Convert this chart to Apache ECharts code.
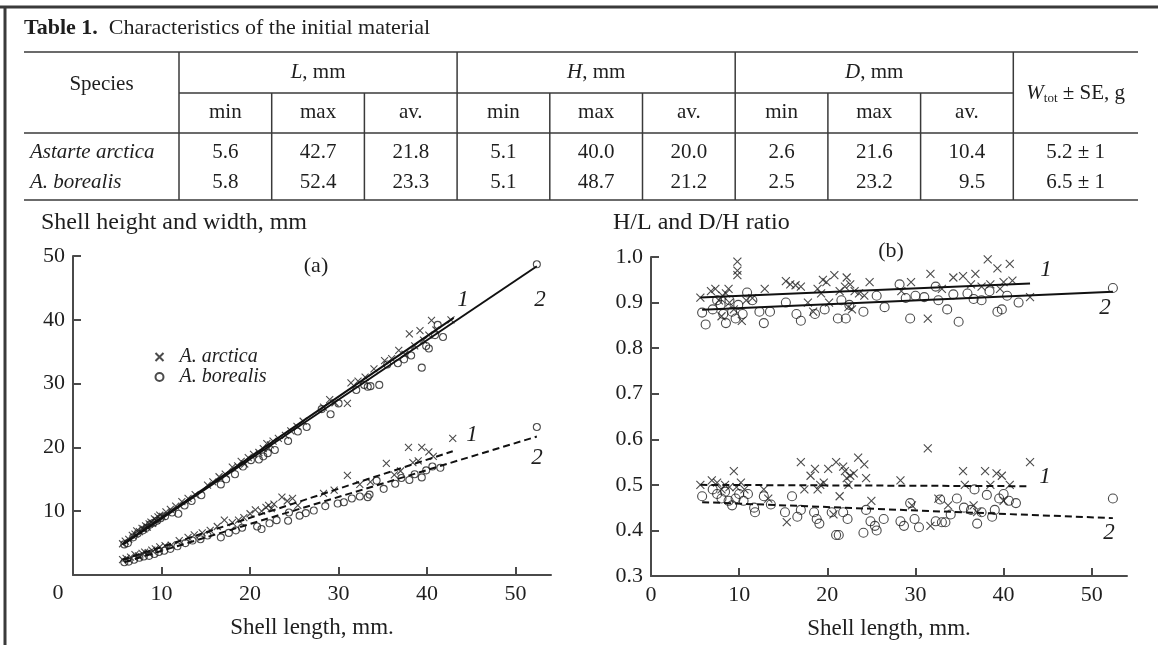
<!DOCTYPE html>
<html>
<head>
<meta charset="utf-8">
<style>
html, body { margin: 0; padding: 0; background: #fff; }
#chart { width: 1158px; height: 645px; }
</style>
<script src="https://cdn.jsdelivr.net/npm/echarts@6/dist/echarts.min.js"></script>
</head>
<body>
<div id="chart"></div>
<script>
// table content
var groupHeaders = ['L', 'H', 'D'];
var subHeaders = ['min', 'max', 'av.'];
var speciesNames = ['Astarte arctica', 'A. borealis'];
var arcticaRow = ['5.6', '42.7', '21.8', '5.1', '40.0', '20.0', '2.6', '21.6', '10.4'];
var borealisRow = ['5.8', '52.4', '23.3', '5.1', '48.7', '21.2', '2.5', '23.2', '9.5'];
var weightValues = ['5.2 ± 1', '6.5 ± 1'];

// (a) shell height and width vs length, [L, mm]
var arcticaHeight = [[5.6,4.9],[5.9,5.3],[6.3,5.6],[6.7,6.2],[7.0,6.4],[7.2,6.9],[7.5,6.8],[7.8,7.3],[8.0,7.2],[8.2,7.7],[8.4,7.5],[8.6,8.0],[8.8,8.3],[9.0,8.1],[9.2,8.8],[9.4,8.6],[9.6,9.1],[9.8,9.4],[10.1,9.2],[10.5,9.9],[11.0,10.3],[11.6,10.8],[12.3,11.5],[13.0,12.0],[13.8,12.6],[15.2,14.1],[15.8,14.6],[16.5,15.4],[17.2,15.8],[18.0,16.9],[18.6,17.1],[19.0,17.8],[19.4,17.4],[19.8,18.4],[20.4,18.9],[21.0,19.2],[21.5,19.8],[21.9,20.6],[22.1,19.9],[22.3,20.4],[22.6,21.0],[23.2,21.4],[24.0,21.9],[24.6,22.6],[25.3,23.3],[26.0,24.1],[28.3,26.3],[29.0,27.5],[29.6,27.0],[31.0,26.9],[31.4,30.1],[32.2,30.4],[33.0,31.0],[34.0,32.3],[35.2,33.6],[36.0,33.9],[36.8,35.2],[37.5,34.6],[38.0,37.8],[38.6,35.9],[39.2,38.3],[39.6,36.8],[40.2,37.6],[40.5,39.9],[41.0,38.4],[42.7,40.0]];
var borealisHeight = [[5.8,4.8],[6.2,5.0],[6.8,5.9],[7.3,6.5],[7.9,7.0],[8.3,7.4],[8.7,7.9],[9.1,8.2],[9.5,8.5],[9.9,8.9],[10.4,9.2],[11.2,9.8],[11.9,9.6],[12.6,10.9],[13.4,11.6],[14.5,12.5],[16.7,14.2],[17.3,15.0],[18.3,15.8],[19.2,17.0],[20.1,18.0],[21.0,18.1],[21.5,18.6],[22.0,19.1],[22.8,19.6],[24.3,21.0],[25.4,22.5],[26.4,23.2],[28.1,26.0],[29.1,25.2],[30.0,26.9],[32.0,29.0],[32.9,29.8],[33.3,29.5],[33.6,29.6],[34.6,29.8],[35.5,33.0],[36.7,33.2],[37.4,33.8],[38.2,34.4],[39.4,32.5],[39.9,35.9],[40.2,35.5],[40.9,37.6],[41.2,39.2],[41.8,37.3],[52.4,48.7]];
var arcticaWidth = [[5.6,2.4],[6.0,2.6],[6.5,2.8],[7.0,3.2],[7.4,3.0],[7.8,3.4],[8.1,3.6],[8.5,3.5],[8.9,3.9],[9.3,4.1],[9.8,4.4],[10.4,4.6],[11.1,4.7],[12.0,5.4],[13.0,5.9],[13.7,6.3],[14.6,6.6],[15.5,7.0],[16.3,7.6],[17.1,8.6],[18.0,8.2],[18.7,8.6],[19.3,9.0],[20.0,9.6],[20.6,10.2],[21.3,10.0],[21.8,10.6],[22.1,10.9],[22.4,10.4],[22.7,11.1],[23.6,12.2],[24.2,11.6],[24.8,12.0],[25.4,10.9],[28.3,12.8],[29.5,13.3],[31.0,15.6],[32.4,14.2],[33.6,14.6],[35.4,17.5],[36.3,15.7],[37.0,16.3],[37.9,20.0],[38.4,17.6],[39.0,17.9],[39.4,20.0],[40.2,19.3],[40.7,18.6],[42.9,21.4]];
var borealisWidth = [[5.8,2.0],[6.3,2.1],[6.9,2.4],[7.5,2.7],[8.0,2.9],[8.6,3.0],[9.2,3.3],[9.7,3.6],[10.3,3.8],[11.0,4.1],[11.8,4.5],[12.7,5.0],[13.5,5.4],[14.4,5.6],[15.2,6.2],[16.7,5.9],[17.6,6.6],[18.4,7.0],[19.1,7.4],[20.8,7.6],[21.3,7.2],[22.2,8.1],[23.0,8.6],[24.3,8.5],[24.4,9.8],[25.6,9.3],[26.3,9.7],[27.2,10.1],[28.5,10.8],[29.9,11.2],[30.6,11.4],[31.5,12.0],[32.4,12.3],[33.3,12.2],[33.5,12.6],[34.3,14.8],[35.1,13.5],[36.4,14.3],[37.1,15.2],[38.0,14.9],[38.6,15.8],[39.4,15.3],[39.9,16.4],[40.6,17.0],[41.5,16.8],[52.4,23.2]];
var fitArcticaHeight = [[5.6,4.8],[43.0,40.3]];
var fitBorealisHeight = [[5.8,4.9],[52.4,48.4]];
var fitArcticaWidth = [[5.6,2.4],[42.9,19.4]];
var fitBorealisWidth = [[5.8,2.0],[52.4,21.7]];

// (b) H/L and D/H ratios vs length
var arcticaHL = [[5.6,0.911],[6.8,0.925],[7.3,0.93],[7.7,0.905],[8.1,0.915],[8.5,0.92],[8.8,0.93],[8.0,0.87],[8.9,0.90],[9.4,0.885],[9.8,0.99],[9.8,0.97],[9.8,0.96],[10.3,0.86],[10.8,0.905],[11.5,0.91],[12.9,0.93],[15.3,0.947],[15.8,0.94],[16.4,0.938],[17.0,0.935],[17.8,0.90],[18.4,0.88],[18.9,0.93],[19.3,0.92],[19.5,0.95],[19.9,0.945],[20.2,0.90],[20.8,0.96],[21.4,0.925],[22.0,0.935],[22.2,0.955],[22.4,0.89],[22.6,0.94],[22.8,0.885],[23.1,0.925],[23.6,0.92],[24.2,0.915],[24.8,0.945],[28.4,0.925],[29.5,0.945],[31.4,0.865],[31.7,0.963],[33.0,0.93],[34.3,0.955],[35.4,0.958],[36.3,0.94],[36.8,0.963],[37.5,0.935],[38.2,0.995],[38.5,0.94],[39.3,0.975],[39.6,0.93],[40.0,0.945],[40.7,0.985],[41.0,0.948],[43.0,0.912]];
var borealisHL = [[5.8,0.878],[6.2,0.852],[7.0,0.885],[7.5,0.905],[7.9,0.895],[8.2,0.875],[8.5,0.855],[8.9,0.905],[9.2,0.88],[9.6,0.865],[9.9,0.895],[10.4,0.875],[10.9,0.922],[11.5,0.905],[12.3,0.88],[12.8,0.855],[13.5,0.88],[15.3,0.90],[16.5,0.875],[17.0,0.86],[18.6,0.875],[19.7,0.885],[21.2,0.865],[21.6,0.905],[22.1,0.865],[22.5,0.895],[24.1,0.88],[25.6,0.915],[26.5,0.89],[28.2,0.94],[28.9,0.91],[29.4,0.865],[30.0,0.915],[31.0,0.912],[32.3,0.935],[32.6,0.905],[33.6,0.885],[34.3,0.918],[34.9,0.858],[35.9,0.92],[36.6,0.908],[37.5,0.905],[38.4,0.925],[39.3,0.88],[39.8,0.885],[40.4,0.915],[41.7,0.90],[52.4,0.932]];
var arcticaDH = [[5.6,0.50],[6.9,0.51],[7.5,0.505],[8.0,0.49],[8.4,0.50],[8.9,0.495],[9.4,0.53],[9.7,0.495],[10.2,0.505],[10.6,0.49],[12.8,0.49],[13.3,0.47],[15.4,0.418],[17.0,0.55],[17.4,0.49],[18.1,0.52],[18.6,0.535],[18.9,0.49],[19.2,0.50],[19.6,0.505],[20.1,0.535],[20.7,0.435],[21.0,0.55],[21.4,0.475],[21.8,0.54],[22.0,0.53],[22.2,0.515],[22.4,0.50],[22.6,0.52],[23.0,0.525],[23.5,0.56],[24.2,0.545],[24.4,0.515],[25.0,0.465],[28.3,0.51],[29.6,0.455],[31.4,0.58],[31.7,0.41],[32.6,0.47],[33.7,0.455],[35.4,0.53],[35.6,0.50],[36.6,0.455],[37.0,0.44],[37.9,0.53],[38.5,0.50],[39.2,0.525],[39.8,0.52],[40.0,0.465],[40.7,0.50],[43.0,0.55]];
var borealisDH = [[5.8,0.475],[7.0,0.49],[7.5,0.48],[8.0,0.47],[8.4,0.485],[8.8,0.465],[9.2,0.455],[9.6,0.47],[10.0,0.48],[10.5,0.465],[11.0,0.48],[11.7,0.45],[11.8,0.44],[12.8,0.475],[13.6,0.457],[15.2,0.44],[16.0,0.475],[16.6,0.43],[17.0,0.445],[18.5,0.44],[18.8,0.425],[19.1,0.415],[20.5,0.44],[21.0,0.39],[21.3,0.39],[21.8,0.44],[22.3,0.425],[24.1,0.395],[24.4,0.445],[24.9,0.42],[25.4,0.41],[25.6,0.40],[26.4,0.425],[28.3,0.42],[28.7,0.41],[29.4,0.46],[29.9,0.425],[30.4,0.407],[32.3,0.42],[32.8,0.468],[33.0,0.418],[33.4,0.418],[34.0,0.435],[34.7,0.47],[35.5,0.45],[36.3,0.445],[36.7,0.49],[37.0,0.415],[37.5,0.44],[38.1,0.478],[38.7,0.43],[39.0,0.445],[39.5,0.47],[40.0,0.48],[40.6,0.465],[41.4,0.46],[52.4,0.47]];
var fitArcticaHL = [[5.6,0.911],[43.0,0.942]];
var fitBorealisHL = [[5.8,0.884],[52.4,0.924]];
var fitArcticaDH = [[5.6,0.500],[43.0,0.497]];
var fitBorealisDH = [[5.8,0.462],[52.4,0.427]];

var xTicks = [10, 20, 30, 40, 50];
var xLabelsB = [0, 10, 20, 30, 40, 50];
var yTicksA = [10, 20, 30, 40, 50];
var yLabelsB = [0.3, 0.4, 0.5, 0.6, 0.7, 0.8, 0.9, 1.0];
var yTicksB = [0.4, 0.5, 0.6, 0.7, 0.8, 0.9, 1.0];

var FONT = '"Liberation Serif", "Times New Roman", serif';
var INK = '#1e1e1e';
var AX = '#4a4a4a';
var CROSS = 'path://M0,0L10,10M10,0L0,10';

function txt(x, y, text, o) {
	o = o || {};
	return {
		type: 'text', x: x, y: y, silent: true,
		style: {
			text: text, fontFamily: FONT, fontSize: o.size || 21,
			fontStyle: o.italic ? 'italic' : 'normal',
			fontWeight: o.bold ? 'bold' : 'normal',
			fill: INK, align: o.align || 'center', verticalAlign: 'middle',
			rich: o.rich
		}
	};
}
function seg(x1, y1, x2, y2, w) {
	return { type: 'line', silent: true, shape: { x1: x1, y1: y1, x2: x2, y2: y2 }, style: { stroke: '#3a3a3a', lineWidth: w || 1.5 } };
}

// table drawing
var g = [];
var tL = 24, tR = 1138, c0 = 179, cw = 92.7;
g.push(seg(0, 7, 1158, 7, 3), seg(5, 7, 5, 645, 3));
g.push(txt(tL, 28, '{b|Table 1.}  Characteristics of the initial material', {
	size: 22, align: 'left',
	rich: { b: { fontFamily: FONT, fontSize: 22, fontWeight: 'bold', fill: INK } }
}));
g.push(seg(tL, 52, tR, 52), seg(c0, 93, c0 + 9 * cw, 93), seg(tL, 133, tR, 133), seg(tL, 200, tR, 200));
for (var k = 0; k <= 9; k++) {
	g.push(seg(c0 + k * cw, k % 3 === 0 ? 52 : 93, c0 + k * cw, 200));
}
g.push(txt((tL + c0) / 2, 84, 'Species'));
groupHeaders.forEach(function(h, i) {
	g.push(txt(c0 + (i * 3 + 1.5) * cw, 72, '{i|' + h + '}, mm', {
		rich: { i: { fontFamily: FONT, fontSize: 21, fontStyle: 'italic', fill: INK } }
	}));
	subHeaders.forEach(function(s, j) {
		g.push(txt(c0 + (i * 3 + j + 0.5) * cw, 112, s));
	});
});
g.push(txt((c0 + 9 * cw + tR) / 2, 93, '{w|W}{s|tot}{n| ± SE, g}', {
	rich: {
		w: { fontFamily: FONT, fontSize: 21, fontStyle: 'italic', fill: INK, lineHeight: 24 },
		s: { fontFamily: FONT, fontSize: 13, fill: INK, verticalAlign: 'bottom', lineHeight: 24 },
		n: { fontFamily: FONT, fontSize: 21, fill: INK, lineHeight: 24 }
	}
}));
[arcticaRow, borealisRow].forEach(function(row, r) {
	var y = 152 + r * 30;
	g.push(txt(30, y, speciesNames[r], { italic: true, align: 'left' }));
	row.forEach(function(v, j) {
		if (j === 8) g.push(txt(c0 + 9 * cw - 28, y, v, { align: 'right' }));
		else g.push(txt(c0 + (j + 0.5) * cw, y, v));
	});
	g.push(txt((c0 + 9 * cw + tR) / 2, y, weightValues[r]));
});

// chart annotations
g.push(txt(41, 223, 'Shell height and width, mm', { size: 24, align: 'left' }));
g.push(txt(613, 223, 'H/L and D/H ratio', { size: 24, align: 'left' }));
g.push(txt(316, 266, '(a)', { size: 22 }));
g.push(txt(891, 251, '(b)', { size: 22 }));
g.push(txt(58, 593, '0', { size: 22 }));
g.push(txt(463, 300, '1', { size: 23, italic: true }), txt(540, 300, '2', { size: 23, italic: true }));
g.push(txt(472, 435, '1', { size: 23, italic: true }), txt(537, 458, '2', { size: 23, italic: true }));
g.push(txt(1046, 270, '1', { size: 23, italic: true }), txt(1105, 308, '2', { size: 23, italic: true }));
g.push(txt(1045, 477, '1', { size: 23, italic: true }), txt(1109, 533, '2', { size: 23, italic: true }));

function xAxis(idx, labels) {
	return {
		type: 'value', gridIndex: idx, min: 0, max: 54, interval: 10,
		name: 'Shell length, mm.', nameLocation: 'middle', nameGap: 41,
		nameTextStyle: { fontFamily: FONT, fontSize: 23, color: INK },
		axisLine: { show: true, onZero: false, lineStyle: { color: AX, width: 2 } },
		axisTick: { show: true, inside: true, length: 8, customValues: xTicks, lineStyle: { color: AX, width: 2 } },
		axisLabel: { customValues: labels, margin: 8, fontFamily: FONT, fontSize: 22, color: INK },
		splitLine: { show: false }
	};
}
function yAxis(idx, min, max, interval, ticks, labels, fmt) {
	return {
		type: 'value', gridIndex: idx, min: min, max: max, interval: interval,
		axisLine: { show: true, onZero: false, lineStyle: { color: AX, width: 2 } },
		axisTick: { show: true, inside: true, length: 8, customValues: ticks, lineStyle: { color: AX, width: 2 } },
		axisLabel: { customValues: labels, margin: 8, fontFamily: FONT, fontSize: 22, color: INK, formatter: fmt },
		splitLine: { show: false }
	};
}
function dots(name, data, axis, cross, size) {
	return {
		type: 'scatter', name: name, data: data, xAxisIndex: axis, yAxisIndex: axis,
		symbol: cross ? CROSS : 'circle', symbolSize: size, silent: true,
		itemStyle: { color: 'none', borderColor: INK, borderWidth: 1.1 }
	};
}
function fit(data, axis, dashed) {
	return {
		type: 'line', data: data, xAxisIndex: axis, yAxisIndex: axis, symbol: 'none', silent: true, z: 5,
		lineStyle: { color: '#111', width: 2, type: dashed ? [7, 4] : 'solid' }
	};
}

var chart = echarts.init(document.getElementById('chart'));
chart.setOption({
	animation: false,
	backgroundColor: '#fff',
	grid: [
		{ left: 73, top: 256, width: 478, height: 319 },
		{ left: 651, top: 257, width: 476, height: 319 }
	],
	legend: {
		data: ['A. arctica', 'A. borealis'], orient: 'vertical', left: 148, top: 342,
		itemWidth: 8, itemHeight: 8, itemGap: 0, selectedMode: false,
		textStyle: { fontFamily: FONT, fontStyle: 'italic', fontSize: 20, lineHeight: 18, color: INK, padding: [0, 0, 0, 11] }
	},
	xAxis: [xAxis(0, xTicks), xAxis(1, xLabelsB)],
	yAxis: [
		yAxis(0, 0, 50, 10, yTicksA, yTicksA),
		yAxis(1, 0.3, 1.0, 0.1, yTicksB, yLabelsB, function(v) { return v.toFixed(1); })
	],
	series: [
		dots('A. arctica', arcticaHeight, 0, true, 7),
		dots('A. borealis', borealisHeight, 0, false, 7),
		dots('A. arctica', arcticaWidth, 0, true, 7),
		dots('A. borealis', borealisWidth, 0, false, 7),
		fit(fitArcticaHeight, 0, false),
		fit(fitBorealisHeight, 0, false),
		fit(fitArcticaWidth, 0, true),
		fit(fitBorealisWidth, 0, true),
		dots('arctica ratio', arcticaHL, 1, true, 8),
		dots('borealis ratio', borealisHL, 1, false, 9),
		dots('arctica ratio', arcticaDH, 1, true, 8),
		dots('borealis ratio', borealisDH, 1, false, 9),
		fit(fitArcticaHL, 1, false),
		fit(fitBorealisHL, 1, false),
		fit(fitArcticaDH, 1, true),
		fit(fitBorealisDH, 1, true)
	],
	graphic: g
});
</script>
</body>
</html>
